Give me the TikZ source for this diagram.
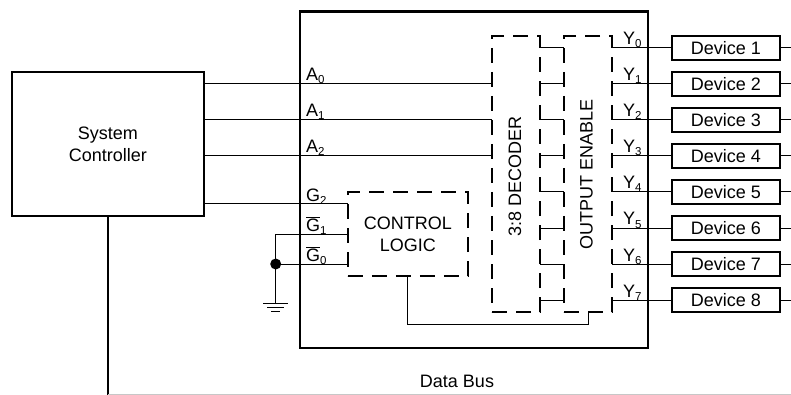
\documentclass[tikz,border=0pt]{standalone}
\usepackage{fontspec}
\setmainfont{Liberation Sans}
\newcommand{\lab}[2]{#1\raisebox{-3pt}{\fontsize{11.5}{12}\selectfont #2}}
\newcommand{\ovl}[1]{\ensuremath{\overline{\hbox{#1}}}}
\tikzset{
  every node/.style={font=\fontsize{18}{22}\selectfont, inner sep=0pt, outer sep=0pt},
  chip/.style={draw, line width=2.4pt, rectangle},
  ctrlbox/.style={draw, line width=1.7pt, rectangle, align=center},
  devbox/.style={draw, line width=1.6pt, rectangle, minimum width=108pt, minimum height=24pt},
  dashbox/.style={draw, line width=1.5pt, rectangle, dash pattern=on 15pt off 9pt, align=center},
  wire/.style={line width=1pt},
  pin/.style={anchor=base west},
}
\begin{document}
\begin{tikzpicture}[x=1pt,y=-1pt]
\useasboundingbox (0,0) rectangle (791,395);
\clip (0,0) rectangle (791,395);

% main blocks
\node[chip, minimum width=348pt, minimum height=336pt] (main) at (474,179.7) {};
\node[ctrlbox, minimum width=192pt, minimum height=144pt] (ctrl) at (107.8,144) {System\\Controller};
\node[dashbox, minimum width=48pt, minimum height=276pt] (dec) at (516,174) {};
\node[dashbox, minimum width=48pt, minimum height=276pt] (oe) at (588,174) {};
\node[dashbox, minimum width=120pt, minimum height=84pt] (logic) at (407.8,234) {CONTROL\\LOGIC};
\node[rotate=90] (dectext) at (515,176) {3:8 DECODER};
\node[rotate=90] (oetext) at (586.5,174) {OUTPUT ENABLE};

% devices
\foreach \i/\y in {1/48,2/84,3/120,4/156,5/192,6/228,7/264,8/300}{
  \node[devbox] (dev\i) at (725.8,\y) {Device \i};
  \coordinate (stub\i) at (791,\y);
  \draw[wire] (dev\i.west) -- (oe.east |- dev\i.west);
  \draw[wire] (dev\i.east) -- (stub\i);
  \draw[wire] (dec.east |- dev\i.west) -- (oe.west |- dev\i.west);
}

% address lines
\coordinate (a0) at (dec.west |- 0,84);
\coordinate (a1) at (dec.west |- 0,120);
\coordinate (a2) at (dec.west |- 0,156);
\draw[wire] (ctrl.east |- a0) -- (a0);
\draw[wire] (ctrl.east |- a1) -- (a1);
\draw[wire] (ctrl.east |- a2) -- (a2);

% control inputs
\coordinate (g2) at (logic.west |- 0,204);
\coordinate (g1) at (logic.west |- 0,234.7);
\coordinate (g0) at (logic.west |- 0,264);
\draw[wire] (ctrl.east |- g2) -- (g2);
\node[circle, fill=black, minimum size=11pt] (dot) at (275.7,264) {};
\draw[wire] (dot.center) -- (g0);
\draw[wire] (dot.center) -- (dot.center |- g1) -- (g1);
\coordinate (gnd) at (275.7,303.7);
\draw[wire] (dot.center) -- (gnd);
\draw[wire] ([xshift=-12.5pt]gnd) -- ([xshift=12.5pt]gnd);
\draw[wire] ([xshift=-8.5pt,yshift=-4pt]gnd) -- ([xshift=8.5pt,yshift=-4pt]gnd);
\draw[wire] ([xshift=-4.5pt,yshift=-8pt]gnd) -- ([xshift=4.5pt,yshift=-8pt]gnd);

% logic to output enable
\coordinate (fbk) at (407.8,324);
\draw[wire] (logic.south) -- (fbk) -- (fbk -| 588,0) -- (oe.south);

% data bus
\coordinate (busend) at (107.8,394.5);
\coordinate (busright) at (791,394.5);
\draw[line width=1.7pt] (ctrl.south) -- (107.8,395);
\draw[line width=1pt, black!22] (busend) -- (busright);
\node[anchor=base] (buslabel) at (457,387) {Data Bus};

% pin labels
\node[pin] (la0) at (306,81) {\lab{A}{0}};
\node[pin] (la1) at (306,117) {\lab{A}{1}};
\node[pin] (la2) at (306,153) {\lab{A}{2}};
\node[pin] (lg2) at (306,201.5) {\lab{G}{2}};
\node[pin] (lg1) at (306,231.5) {\lab{\ovl{G}}{1}};
\node[pin] (lg0) at (306,261) {\lab{\ovl{G}}{0}};
\foreach \i/\y in {0/45,1/81,2/117,3/153,4/189,5/225,6/261,7/297}{
  \node[pin] (ly\i) at (623,\y) {\lab{Y}{\i}};
}
\end{tikzpicture}
\end{document}
